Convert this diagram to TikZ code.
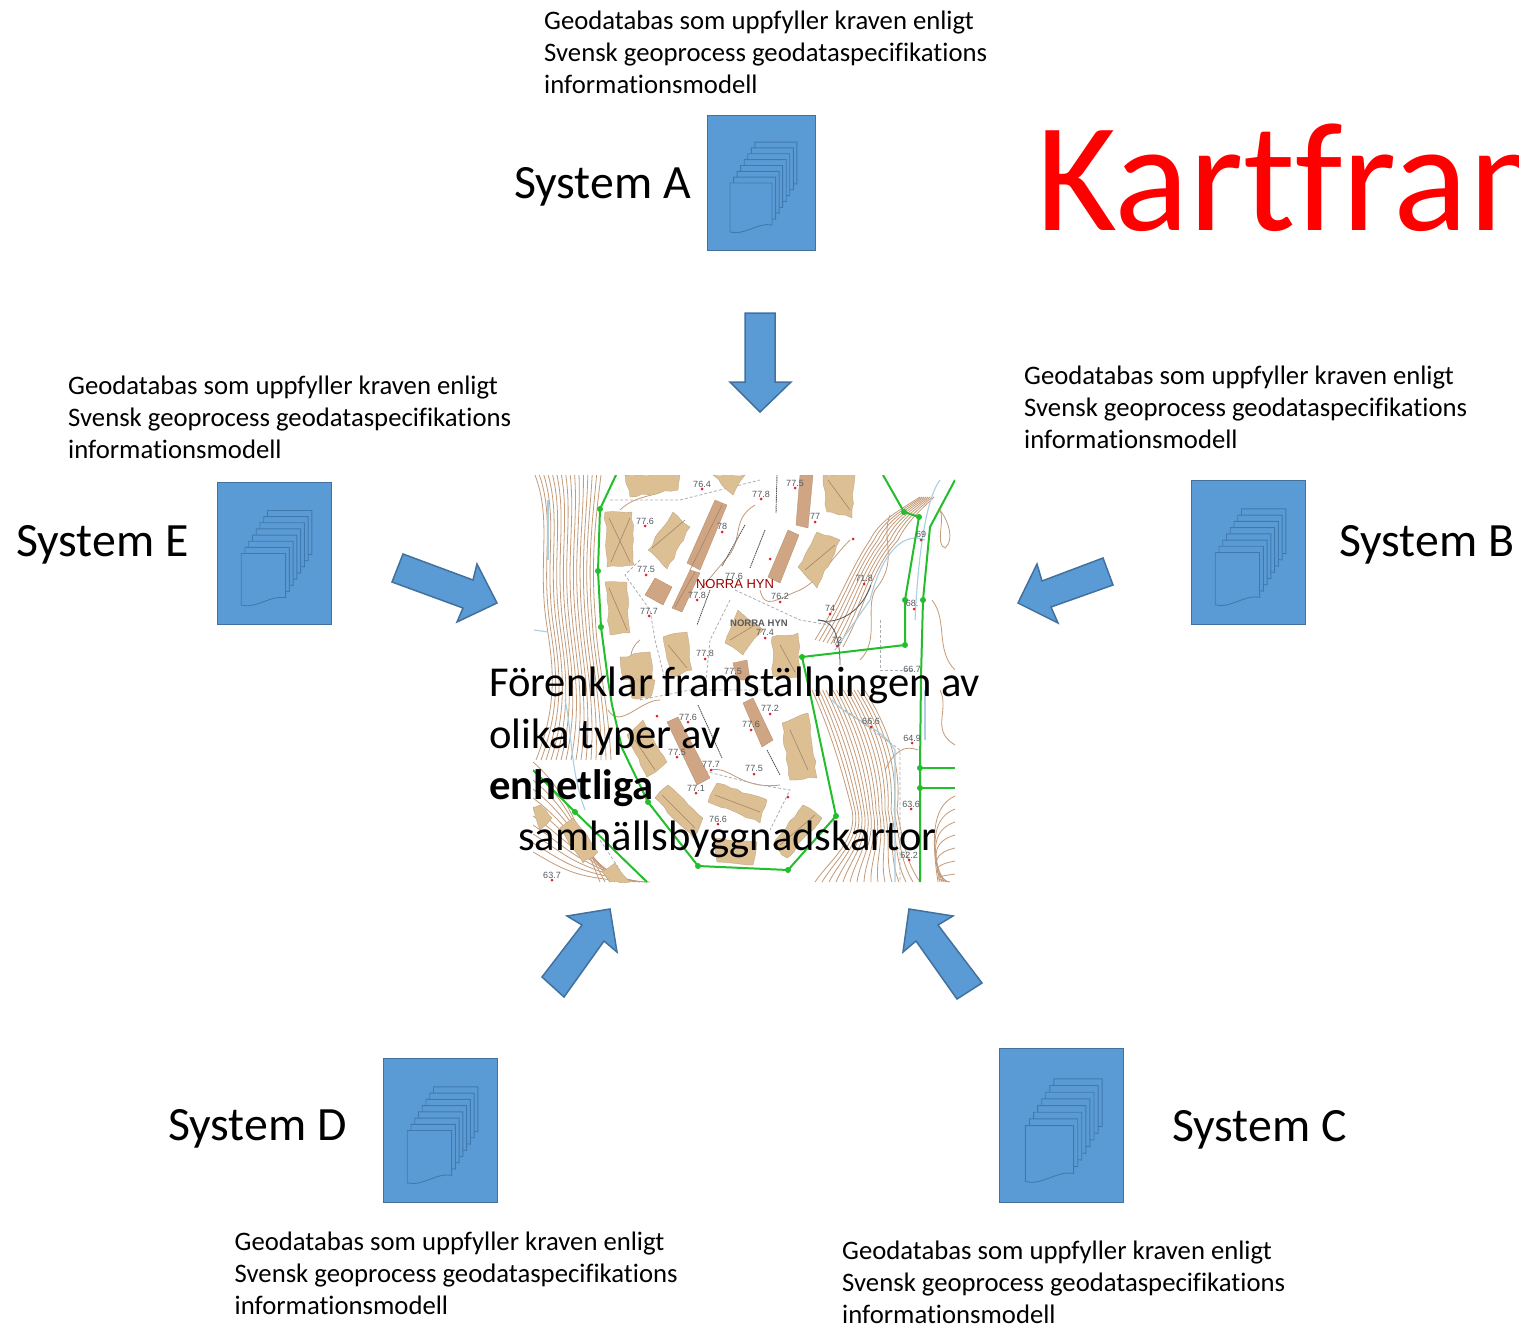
\documentclass[tikz,border=0pt]{standalone}
\usepackage{fontspec}
\usetikzlibrary{decorations.pathmorphing}
\setmainfont[Ligatures=NoCommon]{Carlito}
\newfontfamily\mapfont{Liberation Sans}
\definecolor{boxblue}{HTML}{5B9BD5}
\definecolor{boxedge}{HTML}{41719C}
\definecolor{docedge}{HTML}{4079B0}
\definecolor{tanb}{HTML}{DDBF94}
\definecolor{brownb}{HTML}{CFA583}
\definecolor{contour}{HTML}{C49A78}
\definecolor{mapgreen}{HTML}{22BE2C}
\definecolor{mapgray}{HTML}{55595E}
\definecolor{mapred}{HTML}{E0202F}
\definecolor{streamblue}{HTML}{A9CFE0}
\definecolor{dashgray}{HTML}{A8AEB4}
\tikzset{
  x=1pt,y=-1pt,
  sysbox/.style={draw=boxedge,fill=boxblue,line width=0.8pt,outer sep=0pt},
  docshape/.style={draw=docedge,fill=boxblue,line width=0.9pt},
  arrowshape/.style={draw=boxedge,fill=boxblue,line width=1.5pt,miter limit=10},
  geotext/.style={anchor=north west,inner sep=0pt,align=left,font=\fontsize{26.7}{32}\selectfont},
  systext/.style={anchor=base west,inner sep=0pt,font=\fontsize{47.8}{50}\selectfont},
  maintext/.style={anchor=base west,inner sep=0pt,font=\fontsize{42.6}{50}\selectfont},
  bldA/.style={fill=tanb,draw=tanb!85!black,line width=0.3pt,decorate,decoration={random steps,segment length=7pt,amplitude=1.3pt}},
  bldB/.style={fill=brownb,draw=brownb!85!black,line width=0.3pt},
  cont/.style={draw=contour,line width=0.8pt},
  gline/.style={draw=mapgreen,line width=2pt,line join=round},
  dashp/.style={draw=dashgray,densely dashed,line width=0.8pt},
  stream/.style={draw=streamblue,line width=1.1pt},
  hgt/.style={font=\mapfont\fontsize{9}{9}\selectfont,text=mapgray,inner sep=0pt},
  rdot/.style={fill=mapred,draw=none,circle,inner sep=0pt,minimum size=3pt},
  gdot/.style={fill=mapgreen,draw=none,circle,inner sep=0pt,minimum size=6pt},
}
\pgfmathsetseed{42}
% stack of documents in a system box: box left, top, width, height
\newcommand{\sysicon}[5]{%
  \node[sysbox,anchor=north west,inner sep=0pt,minimum width=#3 pt,minimum height=#4 pt] (#5) at (#1,#2) {};
  \begin{scope}[shift={(#1,#2)},xscale=#3/108,yscale=#4/135]
    \foreach \k in {7,...,0}{
      \draw[docshape] (23+\k*3.55,68-\k*5.85) -- ++(42,0) -- ++(0,42)
        .. controls +(-14,-3) and +(14,4) .. ++(-42,7) -- cycle;
    }
  \end{scope}}
\begin{document}
\begin{tikzpicture}
\useasboundingbox (0,0) rectangle (1519,1325);
\begin{scope}
\clip (0,0) rectangle (1519,1325);
\node[anchor=base west,inner sep=0pt,text=red,font=\fontsize{155.5}{160}\selectfont] (title) at (1036,230) {Kartfram};
\end{scope}
% ------- map
\begin{scope}
\clip (533,475) rectangle (955,882);
\fill[white] (533,475) rectangle (955,882);
% contours left
\foreach \i in {0,...,15}{
  \draw[cont] (535+\i*4.4,475) .. controls (552+\i*2.9,520) and (538+\i*3.5,560) .. (546+\i*3.3,620)
     .. controls (552+\i*3,660) and (560+\i*3.2,700) .. (536+\i*5,760);
}
\foreach \i in {0,...,10}{
  \draw[cont] (533,762+\i*9) .. controls (565,790+\i*8) and (575,820+\i*6) .. (600+\i*5,882);
}
% contours right lower
\foreach \i in {0,...,15}{
  \draw[cont] (812+\i*3.5,690) .. controls (830+\i*4,730) and (842+\i*4,770) .. (852+\i*3,810)
    .. controls (858+\i*3,840) and (830+\i*5,860) .. (815+\i*7,882);
}
\foreach \i in {0,...,6}{
  \draw[cont] (955,796+\i*13) .. controls (935,805+\i*12) and (930,830+\i*8) .. (938+\i*2,882);
}
% contours right upper
\foreach \i in {0,...,7}{
  \draw[cont] (815+\i*4,640+\i) .. controls (840+\i*4,600) and (850+\i*3,570) .. (870+\i*4,540)
     .. controls (880+\i*4,520) and (900+\i*3,510) .. (920+\i*2,497);
}
\draw[cont] (890,515) .. controls (880,540) and (900,560) .. (875,590) .. controls (865,610) and (880,640) .. (860,660);
\draw[cont] (932,600) .. controls (948,620) and (935,650) .. (955,670);
\draw[cont] (940,690) .. controls (950,710) and (930,730) .. (955,745);
\draw[cont] (940,510) .. controls (945,520) and (935,545) .. (945,548) .. controls (955,540) and (948,520) .. (940,510);
% internal roads / paths
\draw[cont] (677,475) .. controls (670,500) and (640,490) .. (620,510);
\draw[cont] (755,505) .. controls (730,520) and (745,540) .. (725,560) -- (700,590);
\draw[cont] (640,640) .. controls (615,660) and (650,690) .. (640,700);
\draw[cont] (760,590) .. controls (765,610) and (775,600) .. (800,590) .. controls (820,580) and (830,560) .. (850,540);
\draw[cont] (608,710) .. controls (620,730) and (640,700) .. (660,700);
\draw[cont] (710,770) .. controls (730,765) and (740,790) .. (780,785);
\draw[cont] (885,770) .. controls (895,750) and (905,745) .. (918,750);
% streams
\draw[stream] (548,500) -- (548,560);
\draw[stream] (534,630) -- (548,632);
\draw[stream] (565,700) .. controls (572,730) and (570,770) .. (585,810);
\draw[stream] (925,540) .. controls (900,530) and (880,560) .. (870,600) -- (835,650);
\draw[stream] (925,690) -- (925,740);
\draw[stream] (832,700) .. controls (850,720) and (880,725) .. (895,750) -- (895,882);
\draw[stream] (940,480) .. controls (925,500) and (918,560) .. (915,620);
% dashed paths
\draw[dashp] (610,500) -- (680,500) -- (720,490) -- (760,480);
\draw[dashp] (640,560) -- (625,575) -- (650,610) -- (655,640) -- (665,680);
\draw[dashp] (735,590) -- (800,620) -- (830,625);
\draw[dashp] (730,600) -- (710,640) -- (705,690);
\draw[dashp] (640,700) -- (690,690) -- (780,690);
\draw[dashp] (700,770) -- (760,785) -- (790,790) -- (770,830);
\draw[dashp] (845,710) -- (900,750) -- (900,882);
\draw[dashp] (600,840) -- (620,870);
\draw[dashp] (880,620) -- (880,670) -- (915,670);
% fences
\draw[mapgray,line width=0.9pt,dash pattern=on 1.5pt off 0.7pt] (777,475) -- (776,513);
\draw[mapgray,line width=0.9pt,dash pattern=on 1.5pt off 0.7pt] (745,525) -- (722,566);
\draw[mapgray,line width=0.9pt,dash pattern=on 1.5pt off 0.7pt] (765,530) -- (750,568);
\draw[mapgray,line width=0.9pt,dash pattern=on 1.5pt off 0.7pt] (710,590) -- (697,625);
\draw[mapgray,line width=0.9pt,dash pattern=on 1.5pt off 0.7pt] (698,705) -- (722,758);
\draw[mapgray,line width=0.9pt,dash pattern=on 1.5pt off 0.7pt] (767,750) -- (780,775);
\draw[mapgray,line width=0.8pt] (818,620) .. controls (835,625) and (860,615) .. (871,585);
\draw[mapgray,line width=0.8pt] (818,620) .. controls (830,620) and (840,630) .. (840,665);
% tan buildings
\foreach \p in {
 {(625,475)--(680,475)--(678,490)--(630,497)},
 {(605,512)--(632,512)--(634,565)--(607,567)},
 {(648,550)--(673,512)--(690,527)--(667,569)},
 {(605,582)--(627,582)--(630,633)--(610,635)},
 {(663,637)--(687,632)--(692,670)--(670,678)},
 {(725,643)--(738,610)--(763,630)--(743,655)},
 {(798,567)--(817,532)--(840,540)--(817,588)},
 {(823,475)--(855,475)--(852,518)--(827,512)},
 {(713,475)--(745,475)--(733,495)},
 {(772,637)--(798,633)--(800,677)--(773,677)},
 {(620,657)--(650,652)--(653,680)--(623,680)},
 {(630,680)--(655,680)--(650,698)--(632,698)},
 {(627,735)--(643,720)--(667,762)--(647,777)},
 {(655,798)--(668,785)--(703,818)--(693,838)},
 {(708,802)--(717,783)--(767,800)--(760,823)},
 {(782,723)--(808,713)--(817,778)--(790,780)},
 {(773,845)--(803,805)--(822,818)--(787,858)},
 {(713,838)--(757,842)--(753,865)--(717,862)},
 {(560,828)--(573,818)--(598,852)--(583,863)},
 {(602,872)--(615,863)--(630,882)--(610,882)},
 {(533,808)--(540,805)--(552,818)--(540,830)}}{
  \draw[bldA] \p -- cycle;
}
% brown buildings
\foreach \p in {
 {(687,563)--(715,500)--(727,505)--(700,570)},
 {(672,608)--(690,570)--(700,573)--(682,612)},
 {(645,595)--(655,578)--(672,587)--(663,605)},
 {(796,525)--(800,475)--(813,475)--(808,528)},
 {(768,577)--(788,530)--(799,535)--(780,583)},
 {(733,663)--(747,660)--(750,680)--(737,680)},
 {(667,722)--(678,717)--(710,778)--(697,785)},
 {(743,703)--(753,698)--(773,740)--(762,747)}}{
  \draw[bldB] \p -- cycle;
}
% cross marks in buildings
\draw[brownb!80!black,line width=0.6pt]
 (609,518)--(630,562) (630,518)--(611,562) (652,548)--(685,520) (609,588)--(627,630)
 (668,645)--(687,668) (730,640)--(755,625) (805,570)--(835,545) (828,480)--(850,510)
 (780,645)--(795,672) (635,740)--(655,770) (662,795)--(695,828) (715,795)--(760,812)
 (790,730)--(808,770) (780,845)--(815,815) (690,570)--(722,505) (675,607)--(695,572);
% green lines
\draw[gline] (616,475) -- (600,509) -- (598,571) -- (601,627) -- (608,680) -- (612,705) -- (622,748)
  -- (648,802) -- (698,866) -- (788,870) -- (836,816) -- (810,693) -- (802,657) -- (905,645) -- (905,600) -- (919,517) -- (904,512) -- (883,475);
\draw[gline] (955,480) -- (930,527) -- (923,600) -- (921,677) -- (920,768) -- (920,882);
\draw[gline] (920,768) -- (955,768);
\draw[gline] (920,788) -- (955,788);
\draw[gline] (533,770) -- (575,812) -- (647,882);
\foreach \x/\y in {600/509,598/571,601/627,648/802,698/866,788/870,836/816,802/657,905/645,905/600,919/517,904/512,923/600,920/768,920/788,575/812}{
  \node[gdot] at (\x,\y) {};
}
% heights
\foreach \x/\y/\lab in {702/484/76.4,761/494/77.8,795/483/77.5,645/521/77.6,722/526/78,646/569/77.5,815/516/77,649/611/77.7,734/576/77.6,697/595/77.8,780/596/76.2,830/608/74,864/578/71.8,912/603/68.,921/534/69,837/640/72,705/653/77.8,765/632/77.4,733/671/77.5,770/708/77.2,688/717/77.6,751/724/77.6,677/752/77.5,711/764/77.7,754/768/77.5,696/788/77.1,718/819/76.6,871/721/66.6,912/738/64.9,912/669/66.7,911/804/63.6,909/855/62.2,552/875/63.7}{
  \node[hgt] at (\x,\y) {\lab};
}
\foreach \x/\y in {702/489,761/499,795/488,645/526,722/532,646/575,815/522,649/616,770/559,697/600,780/602,830/614,864/584,914/609,921/540,837/646,705/659,765/638,770/714,688/722,751/730,677/757,711/770,754/774,696/793,718/824,871/727,912/743,911/809,909/860,552/880,657/716,788/797,853/539}{
  \node[rdot] at (\x,\y) {};
}
\node[font=\mapfont\fontsize{13}{14}\selectfont,text=red!60!black,inner sep=0pt] (norra) at (735,584) {NORRA HYN};
\node[font=\mapfont\bfseries\fontsize{9.5}{10}\selectfont,text=mapgray,inner sep=0pt] (norrb) at (759,623) {NORRA HYN};
\end{scope}
% ------- main text
\node[maintext] (m1) at (489,696) {Förenklar framställningen av};
\node[maintext] (m2) at (489,748) {olika typer av};
\node[maintext,font=\bfseries\fontsize{42.6}{50}\selectfont] (m3) at (489,799) {enhetliga};
\node[maintext] (m4) at (518,850) {samhällsbyggnadskartor};
% ------- system boxes
\sysicon{707}{115}{108}{135}{boxA}
\sysicon{1191}{480}{114}{144}{boxB}
\sysicon{999}{1048}{124}{154}{boxC}
\sysicon{383}{1058}{114}{144}{boxD}
\sysicon{217}{482}{114}{142}{boxE}
\node[systext] (labA) at (514,198) {System A};
\node[systext] (labB) at (1339,556) {System B};
\node[systext] (labC) at (1172,1141) {System C};
\node[systext] (labD) at (168,1140) {System D};
\node[systext] (labE) at (16,556) {System E};
% ------- descriptions
\node[geotext] (geoA) at (544,10.5) {Geodatabas som uppfyller kraven enligt\\Svensk geoprocess geodataspecifikations\\informationsmodell};
\node[geotext] (geoB) at (1024,365.5) {Geodatabas som uppfyller kraven enligt\\Svensk geoprocess geodataspecifikations\\informationsmodell};
\node[geotext] (geoC) at (842,1240.5) {Geodatabas som uppfyller kraven enligt\\Svensk geoprocess geodataspecifikations\\informationsmodell};
\node[geotext] (geoD) at (234.5,1231.5) {Geodatabas som uppfyller kraven enligt\\Svensk geoprocess geodataspecifikations\\informationsmodell};
\node[geotext] (geoE) at (68,375.5) {Geodatabas som uppfyller kraven enligt\\Svensk geoprocess geodataspecifikations\\informationsmodell};
% ------- arrows
\draw[arrowshape] (745,313) -- (775,313) -- (775,382) -- (791,382) -- (760,412) -- (730,382) -- (745,382) -- cycle;
\draw[arrowshape] (1103,558) -- (1113,585) -- (1051,607) -- (1058,623) -- (1018,603) -- (1037,564) -- (1042,581) -- cycle;
\draw[arrowshape] (982,983) -- (957,999) -- (916,941) -- (903,952) -- (909,909) -- (953,916) -- (938,925) -- cycle;
\draw[arrowshape] (542,977) -- (564,997) -- (604,941) -- (617,952) -- (610,909) -- (567,916) -- (582,925) -- cycle;
\draw[arrowshape] (403,554) -- (392,582) -- (463,608) -- (457,622) -- (497,603) -- (477,564) -- (473,580) -- cycle;
\end{tikzpicture}
\end{document}
